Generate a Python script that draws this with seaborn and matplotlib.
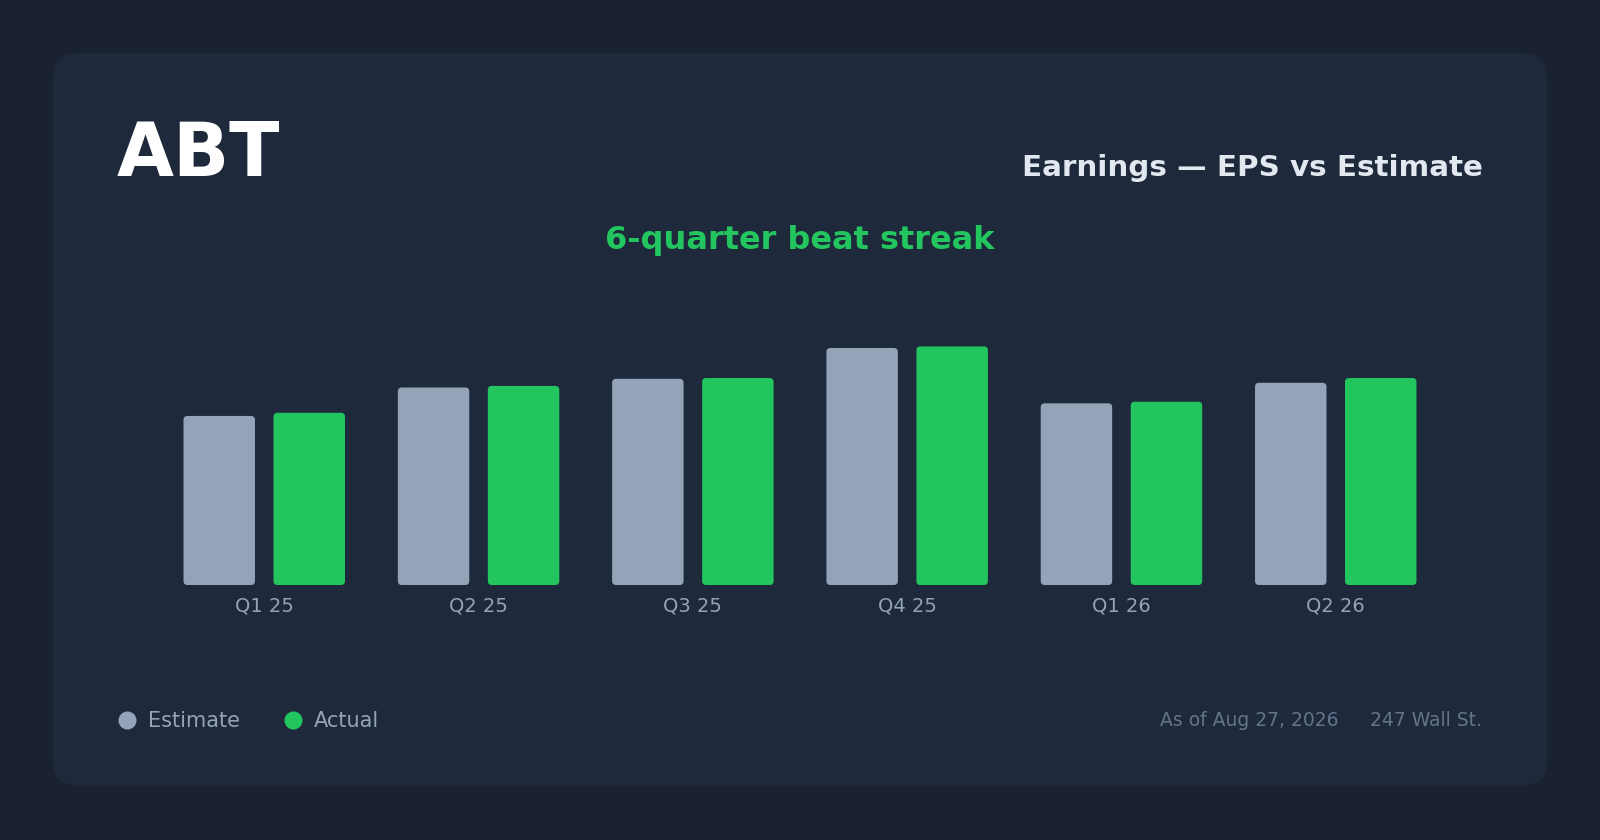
import pandas as pd
import numpy as np
import matplotlib
matplotlib.use("Agg")
import matplotlib.pyplot as plt
from matplotlib.patches import FancyBboxPatch
from matplotlib.lines import Line2D
import seaborn as sns

# Data (EPS, $)
quarters = ["Q1 25", "Q2 25", "Q3 25", "Q4 25", "Q1 26", "Q2 26"]
estimate = [1.07, 1.25, 1.305, 1.50, 1.15, 1.28]
actual = [1.09, 1.26, 1.31, 1.51, 1.16, 1.31]
series_names = ["Estimate", "Actual"]

df = pd.DataFrame({
    "quarter": quarters * 2,
    "series": ["Estimate"] * len(quarters) + ["Actual"] * len(quarters),
    "eps": estimate + actual,
})

# Colours
BG = "#1a2231"
CARD = "#1e293b"
EST_C = "#94a3b8"
ACT_C = "#22c55e"
palette = {"Estimate": EST_C, "Actual": ACT_C}

sns.set_theme(style="white")
plt.rcParams["font.family"] = ["DejaVu Sans"]

W, H = 1600, 840
fig = plt.figure(figsize=(W / 100, H / 100), dpi=100, facecolor=BG)

def fx(x):
    return x / W

def fy(y):
    return 1 - y / H

# Card background (in inches so the corners stay round)
card = FancyBboxPatch((0.53, 0.54), 14.94, 7.33,
                      boxstyle="round,pad=0,rounding_size=0.26",
                      transform=fig.dpi_scale_trans, facecolor=CARD,
                      edgecolor="none", zorder=-5)
fig.patches.append(card)

# Plot area: bars sit on y=585px, 6 groups of 214.3px
ax_left, ax_right, ax_bottom, ax_top = 157.1, 1442.9, 585, 300
ax = fig.add_axes([fx(ax_left), fy(ax_bottom), (ax_right - ax_left) / W,
                   (ax_bottom - ax_top) / H])
ax.set_facecolor("none")

sns.barplot(data=df, x="quarter", y="eps", hue="series", hue_order=series_names,
            palette=palette, saturation=1, width=0.84, gap=0.206,
            legend=False, ax=ax)

px_per_unit_y = 158.0
ax.set_ylim(0, (ax_bottom - ax_top) / px_per_unit_y)
ax.set_xlim(-0.5, len(quarters) - 0.5)

# Round the bar corners
px_per_unit_x = (ax_right - ax_left) / len(quarters)
r_px = 4
aspect = (1 / px_per_unit_y) / (1 / px_per_unit_x)
bars = list(ax.patches)
for p in bars:
    x, y, w, h = p.get_x(), p.get_y(), p.get_width(), p.get_height()
    fb = FancyBboxPatch((x, y), w, h,
                        boxstyle=f"round,pad=0,rounding_size={r_px / px_per_unit_x}",
                        mutation_aspect=aspect,
                        facecolor=p.get_facecolor(), edgecolor="none", zorder=2)
    p.remove()
    ax.add_patch(fb)

for s in ax.spines.values():
    s.set_visible(False)
ax.set_yticks([])
ax.set_xlabel("")
ax.set_ylabel("")
ax.tick_params(axis="x", length=0, pad=8, labelsize=14, labelcolor=EST_C)

# Header
fig.text(fx(117), fy(176), "ABT", fontsize=53, fontweight="bold",
         color="white", ha="left", va="baseline")
fig.text(fx(1483), fy(176), "Earnings \u2014 EPS vs Estimate", fontsize=21.2,
         fontweight="bold", color="#e2e8f0", ha="right", va="baseline")
fig.text(fx(800), fy(249), "6-quarter beat streak", fontsize=23,
         fontweight="bold", color=ACT_C, ha="center", va="baseline")

# Legend
handles = [Line2D([], [], marker="o", linestyle="none", markersize=13,
                  markerfacecolor=palette[n], markeredgecolor="none")
           for n in series_names]
leg = fig.legend(handles, series_names, loc="center left",
                 bbox_to_anchor=(fx(117), fy(721)), ncol=2, frameon=False,
                 fontsize=15, handlelength=1.0, handletextpad=0.5,
                 columnspacing=2.05, borderpad=0, borderaxespad=0)
for t in leg.get_texts():
    t.set_color(EST_C)

# Footer
fig.text(fx(1338), fy(726), "As of Aug 27, 2026", fontsize=13.5,
         color="#64748b", ha="right", va="baseline")
fig.text(fx(1482), fy(726), "247 Wall St.", fontsize=13.5,
         color="#64748b", ha="right", va="baseline")

fig.savefig("out.png", dpi=100, facecolor=BG)
